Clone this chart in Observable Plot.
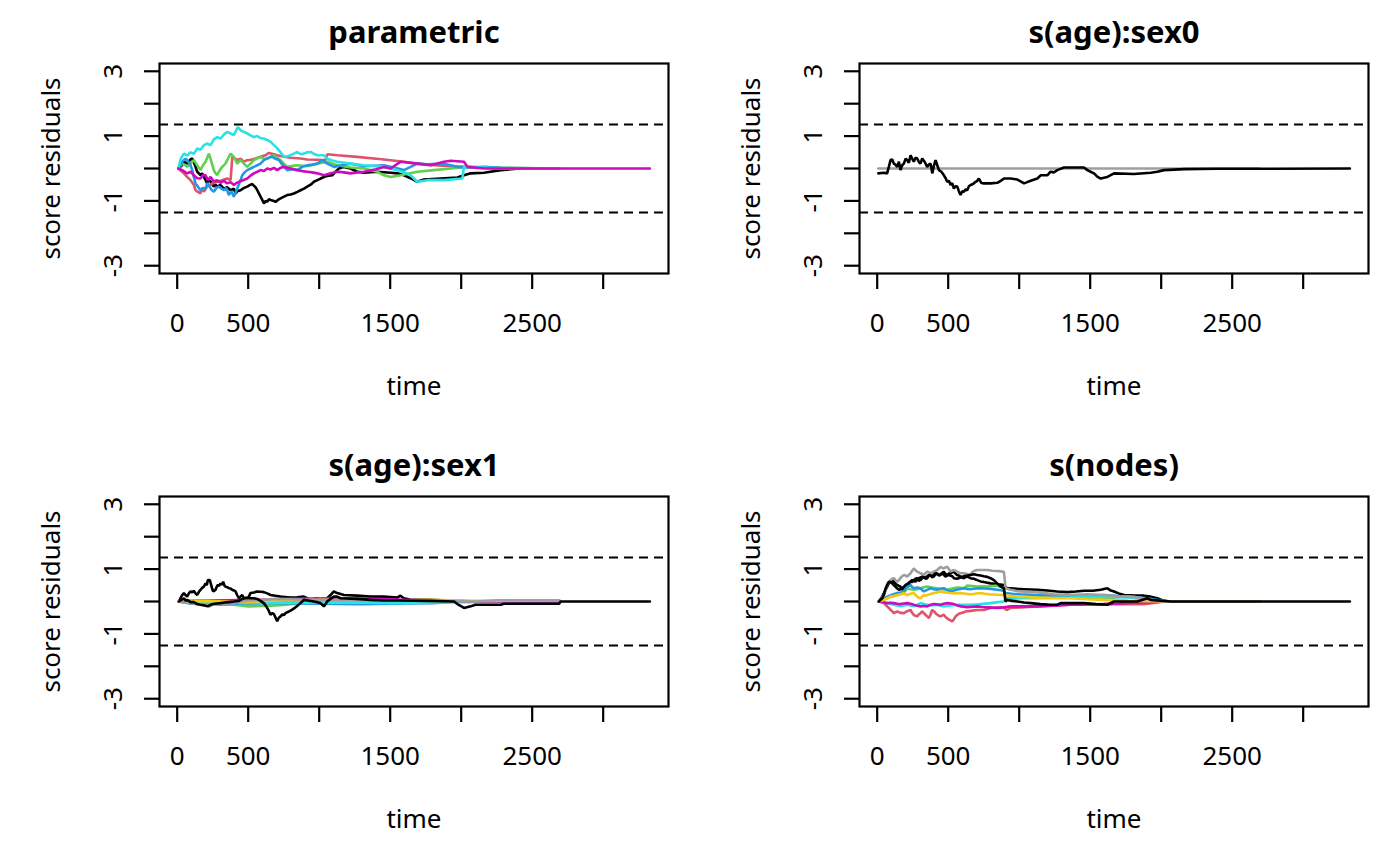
<!DOCTYPE html>
<html><head><meta charset="utf-8">
<script src="https://cdn.jsdelivr.net/npm/d3@7"></script>
<script src="https://cdn.jsdelivr.net/npm/@observablehq/plot@0.6"></script>
<style>
body{margin:0;background:#fff;}
#grid{display:grid;grid-template-columns:700px 700px;grid-template-rows:433px 433px;width:1400px;height:866px;}
#grid svg{display:block;}
</style></head><body><div id="grid"></div>
<script>
const panelTitles = ["parametric","s(age):sex0","s(age):sex1","s(nodes)"];
const xLabel = "time";
const yLabel = "score residuals";
const xTicks = [0,500,1000,1500,2000,2500,3000];
const xTickLabels = ["0","500","","1500","","2500",""];
const yTicks = [-3,-2,-1,0,1,2,3];
const yTickLabels = ["-3","","-1","","1","","3"];
const bandLimit = 1.358;
const seriesColors = ["#000000","#DF536B","#61D04F","#2297E6","#28E2E5","#CD0BBC","#F5C710","#9E9E9E","#000000"];

// ---- parametric ----
const par_black = [[8,0],[35,0.1],[47,0.21],[70,0.15],[94,0.28],[106,0.31],[117,0.2],[129,0.05],[141,-0.1],[164,-0.2],[176,-0.15],[188,-0.26],[200,-0.36],[211,-0.46],[223,-0.36],[235,-0.4],[258,-0.56],[270,-0.5],[282,-0.56],[305,-0.51],[329,-0.62],[352,-0.58],[376,-0.67],[399,-0.62],[411,-0.77],[423,-0.7],[446,-0.67],[470,-0.6],[493,-0.56],[517,-0.5],[529,-0.48],[552,-0.58],[564,-0.67],[587,-0.87],[599,-0.97],[611,-1.08],[622,-1.0],[634,-1.03],[646,-0.95],[658,-0.97],[681,-1.0],[693,-1.03],[716,-0.95],[728,-0.92],[752,-0.87],[775,-0.82],[799,-0.8],[822,-0.77],[846,-0.72],[869,-0.67],[893,-0.62],[916,-0.56],[940,-0.5],[963,-0.41],[987,-0.36],[1010,-0.31],[1045,-0.24],[1092,-0.21],[1115,-0.1],[1139,0],[1174,0.05],[1221,0],[1268,-0.1],[1315,-0.13],[1409,-0.1],[1503,-0.13],[1550,-0.15],[1597,-0.21],[1644,-0.3],[1691,-0.41],[1738,-0.34],[1856,-0.31],[1973,-0.28],[2020,-0.21],[2067,-0.15],[2161,-0.13],[2279,-0.05],[2396,-0.01],[2690,0]];
const par_red = [[8,0],[47,-0.15],[70,-0.26],[94,-0.36],[117,-0.5],[129,-0.67],[146,-0.72],[164,-0.77],[176,-0.6],[188,-0.72],[211,-0.56],[235,-0.5],[247,-0.46],[282,-0.41],[317,-0.36],[352,-0.31],[376,-0.36],[388,0.36],[411,0.3],[423,0.26],[446,0.3],[470,0.21],[493,0.26],[517,0.26],[552,0.31],[587,0.36],[622,0.41],[646,0.48],[681,0.44],[705,0.41],[752,0.36],[799,0.33],[869,0.31],[916,0.28],[1045,0.26],[1057,0.44],[1128,0.41],[1268,0.36],[1456,0.28],[1597,0.21],[1691,0.15],[1809,0.1],[1926,0.07],[2044,0.05],[2161,0.03],[2279,0.01],[2690,0]];
const par_green = [[8,0],[35,0.15],[58,0.1],[70,0.05],[94,0.15],[117,0.26],[141,0.1],[164,-0.05],[182,0.1],[200,0.21],[223,0.46],[235,0.3],[258,-0.05],[270,-0.15],[282,-0.2],[300,-0.05],[317,0.05],[340,0.15],[352,0.26],[376,0.46],[399,0.36],[423,0.15],[446,0.26],[470,0.15],[493,0.05],[517,0.15],[540,0.26],[564,0.31],[587,0.36],[611,0.3],[634,0.31],[658,0.36],[681,0.41],[705,0.33],[728,0.26],[752,0.15],[775,0.05],[810,0.08],[846,0.1],[916,0.07],[987,0.15],[1057,0.21],[1128,0.1],[1221,0.03],[1315,0],[1409,-0.1],[1456,-0.21],[1503,-0.26],[1574,-0.21],[1691,-0.1],[1809,-0.05],[1926,0],[2044,0.05],[2161,0.03],[2690,0]];
const par_blue = [[8,0],[35,0.21],[58,0.3],[70,0.26],[94,0.1],[106,-0.05],[117,-0.26],[129,-0.46],[146,-0.56],[164,-0.67],[182,-0.6],[200,-0.62],[212,-0.45],[223,-0.51],[240,-0.65],[258,-0.72],[276,-0.6],[294,-0.56],[311,-0.62],[329,-0.67],[346,-0.6],[364,-0.82],[381,-0.7],[399,-0.87],[415,-0.7],[428,-0.56],[443,-0.4],[458,-0.21],[475,-0.12],[493,-0.05],[517,0],[540,0.05],[564,0.1],[587,0.15],[611,0.26],[634,0.31],[658,0.36],[669,0.36],[693,0.3],[716,0.26],[752,0.05],[775,-0.05],[810,-0.02],[846,-0.05],[880,0.05],[916,0.1],[950,0.12],[987,0.15],[1022,0.26],[1057,0.15],[1104,0.05],[1160,0.1],[1221,0.15],[1315,0.07],[1456,0.1],[1503,0.05],[1597,-0.05],[1644,0.05],[1691,0.15],[1762,0.13],[1879,0.15],[1973,0.05],[2044,0.03],[2161,0.05],[2279,0.02],[2690,0]];
const par_cyan = [[8,0],[25,0.3],[47,0.46],[70,0.4],[94,0.5],[117,0.45],[141,0.62],[164,0.58],[188,0.72],[211,0.77],[235,0.72],[258,0.9],[282,0.97],[305,0.92],[329,1.05],[352,1.13],[376,1.08],[399,1.03],[412,1.15],[428,1.28],[446,1.18],[470,1.13],[493,1.08],[517,1.02],[540,0.97],[564,1.0],[587,0.94],[611,0.92],[634,0.88],[658,0.82],[681,0.72],[705,0.62],[728,0.5],[752,0.36],[775,0.38],[799,0.41],[822,0.46],[846,0.51],[869,0.44],[893,0.46],[916,0.5],[940,0.51],[963,0.45],[987,0.41],[1034,0.41],[1057,0.3],[1081,0.26],[1128,0.21],[1221,0.15],[1315,0.1],[1456,0.05],[1550,-0.05],[1600,-0.12],[1644,-0.21],[1691,-0.41],[1762,-0.36],[1879,-0.36],[2008,-0.31],[2020,0.05],[2161,0.03],[2279,0],[2690,0]];
const par_magenta = [[8,0],[35,-0.05],[58,-0.12],[70,-0.15],[94,-0.1],[117,-0.21],[141,-0.3],[164,-0.31],[182,-0.2],[200,-0.21],[217,-0.36],[235,-0.26],[258,-0.4],[282,-0.36],[305,-0.44],[329,-0.38],[352,-0.46],[376,-0.42],[399,-0.51],[417,-0.45],[435,-0.41],[464,-0.36],[493,-0.31],[517,-0.22],[540,-0.15],[564,-0.1],[587,-0.05],[611,-0.08],[634,0],[658,-0.03],[681,0.02],[705,-0.05],[728,0.02],[752,0.05],[799,0],[846,-0.05],[880,-0.08],[916,-0.1],[950,-0.12],[987,-0.15],[1034,-0.21],[1081,-0.15],[1128,-0.1],[1174,-0.12],[1221,-0.15],[1268,-0.12],[1315,-0.1],[1400,-0.02],[1456,0.05],[1503,0],[1574,0.21],[1691,0.15],[1785,0.1],[1879,0.21],[1926,0.24],[2020,0.21],[2044,0.05],[2161,0],[3329,0]];

// ---- s(age):sex0 ----
const sex0_gray = [[8,0],[2690,0]];
const sex0_black = [[8,-0.15],[47,-0.13],[70,-0.15],[82,0.05],[94,0.26],[106,0.28],[117,0.15],[129,0.12],[141,0.05],[153,0.21],[164,-0.05],[176,0.1],[188,0.15],[200,0.3],[211,0.26],[223,0.18],[235,0.41],[247,0.3],[258,0.21],[270,0.33],[282,0.31],[294,0.2],[305,0.15],[317,0.31],[335,0.2],[352,0.05],[364,0.12],[376,0.15],[388,-0.15],[400,0.1],[411,0.26],[423,0.1],[435,-0.05],[452,-0.1],[470,-0.21],[482,-0.3],[493,-0.41],[505,-0.38],[517,-0.51],[528,-0.45],[540,-0.62],[552,-0.55],[564,-0.56],[575,-0.7],[587,-0.82],[599,-0.7],[611,-0.72],[622,-0.65],[634,-0.67],[646,-0.55],[658,-0.51],[675,-0.48],[693,-0.41],[705,-0.38],[716,-0.31],[734,-0.45],[752,-0.46],[799,-0.46],[846,-0.44],[870,-0.38],[893,-0.31],[940,-0.31],[987,-0.34],[1010,-0.4],[1034,-0.46],[1057,-0.42],[1081,-0.38],[1128,-0.31],[1151,-0.21],[1198,-0.21],[1221,-0.1],[1244,-0.12],[1268,-0.05],[1315,0.03],[1362,0.03],[1456,0.03],[1480,-0.05],[1503,-0.1],[1527,-0.15],[1550,-0.25],[1574,-0.31],[1621,-0.26],[1668,-0.15],[1809,-0.17],[1926,-0.13],[1973,-0.1],[2020,-0.05],[2161,-0.02],[2396,-0.01],[3329,0]];

// ---- s(age):sex1 ----
const sex1_black1 = [[12,0],[23,0.1],[35,0.2],[47,0.26],[58,0.2],[70,0.15],[82,0.25],[94,0.31],[106,0.28],[117,0.33],[129,0.25],[141,0.2],[153,0.3],[164,0.36],[176,0.42],[188,0.46],[200,0.56],[208,0.5],[216,0.66],[230,0.66],[239,0.51],[246,0.4],[253,0.31],[262,0.33],[270,0.36],[278,0.45],[286,0.51],[295,0.48],[305,0.56],[314,0.52],[324,0.61],[332,0.5],[340,0.46],[352,0.44],[364,0.41],[376,0.4],[387,0.36],[399,0.34],[411,0.31],[422,0.2],[434,0.1],[446,0.15],[458,0.2],[470,0.1],[493,0],[505,0.15],[516,0.26],[540,0.28],[563,0.31],[587,0.3],[610,0.29],[634,0.25],[657,0.2],[690,0.18],[728,0.15],[760,0.14],[798,0.12],[845,0.13],[892,0.15],[915,0.1],[939,0.05],[962,0.08],[986,0.1],[1009,0.05],[1033,0],[1056,0.1],[1080,0.2],[1103,0.31],[1127,0.26],[1174,0.2],[1267,0.18],[1361,0.15],[1455,0.15],[1549,0.12],[1572,0.18],[1596,0.1],[1643,0.05],[1784,0.05],[1900,0.03],[2100,0],[2690,0]];
const sex1_red = [[12,0],[60,-0.02],[100,-0.04],[180,-0.02],[250,-0.05],[350,-0.04],[500,-0.07],[600,-0.05],[700,-0.03],[850,-0.02],[1000,0],[1200,-0.01],[1500,-0.02],[1800,-0.01],[2000,0],[2690,0]];
const sex1_green = [[12,0],[60,-0.03],[100,-0.05],[200,-0.06],[300,-0.08],[400,-0.1],[500,-0.15],[600,-0.14],[700,-0.12],[800,-0.08],[900,-0.05],[1200,-0.05],[1500,-0.03],[2000,0],[2690,0]];
const sex1_blue = [[12,0],[80,-0.05],[150,-0.08],[220,-0.06],[300,-0.1],[400,-0.07],[500,-0.05],[800,-0.05],[1000,-0.07],[1300,-0.08],[1600,-0.06],[1800,-0.05],[2000,0],[2690,0]];
const sex1_cyan = [[12,0],[100,-0.02],[200,-0.03],[350,-0.04],[500,-0.05],[800,-0.04],[1000,-0.03],[1300,-0.04],[1500,-0.05],[1800,-0.03],[2000,-0.02],[2690,0]];
const sex1_magenta = [[12,0],[100,0.02],[200,0.03],[350,0.04],[500,0.05],[650,0.06],[800,0.08],[950,0.09],[1100,0.1],[1250,0.09],[1400,0.08],[1600,0.05],[1800,0.03],[2200,0],[2690,0]];
const sex1_yellow = [[12,0],[100,0.01],[200,0.02],[300,0.01],[400,-0.02],[550,0],[700,0.03],[850,0.04],[1000,0.05],[1250,0.04],[1500,0.03],[1800,0.05],[2000,0.03],[2200,0.02],[2690,0.03]];
const sex1_gray = [[12,0],[50,-0.03],[100,-0.05],[150,-0.08],[200,-0.1],[230,-0.15],[260,-0.08],[300,-0.08],[350,-0.06],[400,-0.05],[450,0],[500,0.03],[600,0.05],[700,0.08],[800,0.07],[900,0.05],[1100,0.05],[1400,0.03],[1800,0.02],[2100,0],[2250,0.04],[2690,0.04],[2700,0]];
const sex1_black2 = [[12,0],[30,0.05],[47,0.1],[60,0.02],[70,0.05],[94,-0.02],[117,-0.02],[141,-0.08],[164,-0.1],[190,-0.12],[216,-0.15],[235,-0.1],[253,-0.08],[280,-0.06],[305,-0.05],[335,-0.03],[364,-0.02],[400,0],[434,0.02],[450,0.06],[469,0.1],[493,0.12],[516,0.1],[540,0.1],[563,0.08],[587,0.02],[610,-0.05],[622,-0.12],[634,-0.2],[646,-0.3],[657,-0.41],[669,-0.36],[681,-0.39],[693,-0.5],[704,-0.61],[716,-0.5],[728,-0.46],[740,-0.4],[751,-0.42],[763,-0.36],[775,-0.33],[786,-0.31],[810,-0.25],[833,-0.18],[850,-0.12],[868,-0.05],[880,0],[892,0.05],[920,0.03],[962,0],[986,-0.02],[1009,-0.05],[1022,-0.1],[1033,-0.15],[1045,-0.08],[1056,0],[1080,0.08],[1103,0.15],[1127,0.15],[1150,0.1],[1267,0.08],[1361,0.05],[1455,0.03],[1549,0.03],[1784,0.02],[1950,0],[1980,-0.1],[2020,-0.2],[2067,-0.15],[2100,-0.1],[2279,-0.1],[2300,-0.07],[2690,-0.07],[2700,0],[3329,0]];

// ---- s(nodes) ----
const nodes_black1 = [[12,0],[35,0.15],[59,0.36],[82,0.56],[94,0.61],[106,0.66],[117,0.61],[129,0.55],[141,0.51],[153,0.48],[164,0.46],[176,0.36],[188,0.41],[200,0.48],[211,0.51],[223,0.58],[235,0.61],[246,0.6],[258,0.66],[270,0.7],[282,0.72],[293,0.64],[305,0.66],[317,0.72],[329,0.77],[340,0.7],[352,0.72],[364,0.8],[376,0.82],[387,0.75],[399,0.77],[411,0.84],[422,0.87],[434,0.8],[446,0.82],[458,0.88],[469,0.92],[481,0.85],[493,0.82],[505,0.86],[516,0.87],[528,0.9],[540,0.92],[552,0.86],[563,0.82],[575,0.8],[587,0.77],[598,0.74],[610,0.72],[622,0.75],[634,0.77],[657,0.72],[681,0.7],[704,0.66],[728,0.62],[751,0.6],[775,0.58],[798,0.56],[822,0.55],[845,0.53],[870,0.52],[892,0.51],[904,0.45],[916,0.41],[939,0.41],[987,0.39],[1034,0.38],[1081,0.37],[1128,0.36],[1198,0.34],[1268,0.31],[1339,0.29],[1400,0.31],[1456,0.33],[1520,0.33],[1574,0.36],[1621,0.41],[1640,0.35],[1668,0.31],[1700,0.25],[1738,0.2],[1800,0.19],[1879,0.18],[1926,0.15],[1973,0.1],[2020,0.02],[2067,0],[2690,0]];
const nodes_red = [[12,0],[35,-0.03],[47,-0.05],[59,-0.1],[70,-0.15],[82,-0.2],[94,-0.26],[106,-0.3],[117,-0.36],[129,-0.33],[141,-0.31],[164,-0.35],[188,-0.36],[211,-0.3],[235,-0.26],[246,-0.35],[258,-0.41],[270,-0.44],[282,-0.46],[293,-0.4],[305,-0.36],[317,-0.31],[329,-0.36],[340,-0.41],[352,-0.46],[364,-0.51],[376,-0.4],[387,-0.26],[399,-0.3],[411,-0.36],[422,-0.4],[434,-0.44],[446,-0.46],[458,-0.43],[469,-0.41],[481,-0.48],[493,-0.52],[505,-0.56],[516,-0.58],[528,-0.61],[540,-0.55],[552,-0.46],[563,-0.42],[575,-0.38],[587,-0.36],[610,-0.33],[622,-0.31],[657,-0.29],[704,-0.26],[751,-0.26],[798,-0.2],[845,-0.18],[892,-0.18],[904,-0.24],[915,-0.26],[939,-0.2],[1009,-0.18],[1127,-0.15],[1244,-0.12],[1361,-0.1],[1596,-0.08],[1700,-0.08],[1879,-0.08],[2020,0],[2690,0]];
const nodes_green = [[12,0],[40,0.05],[70,0.1],[100,0.15],[141,0.2],[165,0.22],[188,0.26],[211,0.41],[235,0.38],[258,0.36],[282,0.38],[305,0.41],[329,0.44],[352,0.46],[387,0.43],[422,0.41],[458,0.38],[493,0.36],[528,0.4],[563,0.43],[587,0.42],[610,0.41],[634,0.49],[670,0.48],[704,0.46],[740,0.47],[775,0.46],[810,0.48],[845,0.49],[870,0.45],[892,0.41],[904,0.05],[950,0.08],[1009,0.12],[1127,0.15],[1244,0.14],[1361,0.12],[1596,0.1],[1700,0.05],[1784,0],[1900,0.03],[2100,0],[2690,0]];
const nodes_blue = [[12,0],[40,0.08],[70,0.15],[100,0.2],[141,0.26],[165,0.28],[188,0.31],[200,0.4],[211,0.46],[223,0.48],[235,0.51],[246,0.45],[258,0.41],[282,0.43],[305,0.41],[317,0.35],[329,0.31],[352,0.36],[376,0.41],[399,0.38],[422,0.36],[446,0.39],[469,0.41],[493,0.35],[516,0.31],[540,0.34],[563,0.36],[587,0.39],[610,0.41],[634,0.39],[657,0.38],[690,0.4],[728,0.41],[760,0.4],[798,0.39],[845,0.36],[892,0.33],[904,0.26],[950,0.24],[1009,0.22],[1127,0.2],[1244,0.18],[1361,0.15],[1480,0.17],[1596,0.2],[1700,0.17],[1784,0.15],[1900,0.1],[2050,0],[2690,0]];
const nodes_cyan = [[12,0],[40,-0.03],[70,-0.05],[94,-0.08],[117,-0.1],[141,-0.12],[164,-0.15],[188,-0.12],[211,-0.1],[235,-0.12],[258,-0.15],[282,-0.1],[305,-0.05],[329,-0.08],[352,-0.1],[387,-0.12],[422,-0.1],[446,-0.13],[469,-0.15],[516,-0.12],[563,-0.1],[610,-0.1],[657,-0.1],[704,-0.09],[728,-0.08],[798,-0.05],[850,-0.02],[892,0],[904,0.1],[1009,0.1],[1127,0.1],[1244,0.11],[1361,0.12],[1480,0.14],[1596,0.15],[1700,0.13],[1784,0.12],[1900,0.05],[2050,0],[2690,0]];
const nodes_magenta = [[12,0],[40,-0.02],[70,-0.05],[94,-0.04],[117,-0.05],[141,-0.07],[164,-0.08],[188,-0.06],[211,-0.05],[235,-0.07],[258,-0.1],[282,-0.13],[305,-0.15],[329,-0.14],[352,-0.15],[376,-0.1],[399,-0.08],[422,-0.09],[446,-0.1],[469,-0.07],[493,-0.05],[516,-0.06],[540,-0.08],[563,-0.12],[587,-0.15],[610,-0.16],[634,-0.18],[670,-0.16],[704,-0.15],[740,-0.17],[775,-0.18],[810,-0.19],[845,-0.2],[892,-0.18],[939,-0.15],[1009,-0.15],[1127,-0.15],[1244,-0.13],[1361,-0.1],[1480,-0.09],[1596,-0.08],[1700,-0.06],[1800,-0.04],[1900,-0.03],[2050,0],[2690,0]];
const nodes_yellow = [[12,0],[30,0.02],[47,0.05],[70,0.1],[94,0.15],[117,0.17],[141,0.2],[164,0.22],[188,0.26],[200,0.22],[211,0.2],[235,0.24],[258,0.26],[270,0.2],[282,0.15],[293,0.12],[305,0.1],[317,0.15],[329,0.2],[340,0.18],[352,0.2],[376,0.23],[399,0.26],[422,0.28],[446,0.31],[469,0.29],[493,0.27],[516,0.26],[552,0.25],[587,0.26],[622,0.24],[657,0.22],[690,0.24],[728,0.26],[760,0.24],[798,0.22],[845,0.21],[892,0.2],[950,0.17],[1009,0.15],[1127,0.12],[1244,0.11],[1361,0.1],[1480,0.07],[1596,0.05],[1784,0.02],[2000,0],[2690,0]];
const nodes_gray = [[12,0],[30,0.1],[47,0.2],[59,0.36],[70,0.51],[82,0.6],[94,0.66],[106,0.7],[117,0.72],[129,0.66],[141,0.61],[153,0.66],[164,0.72],[176,0.78],[188,0.82],[200,0.8],[211,0.77],[223,0.82],[235,0.87],[246,0.95],[258,1.02],[270,0.96],[282,0.92],[293,0.9],[305,0.87],[317,0.85],[329,0.82],[340,0.87],[352,0.92],[364,0.9],[376,0.87],[399,0.92],[422,0.97],[434,1.02],[446,1.07],[458,1.04],[469,1.02],[481,1.05],[493,1.07],[505,1.0],[516,0.92],[528,0.95],[540,0.97],[563,0.92],[587,0.87],[610,0.87],[634,0.85],[657,0.82],[669,0.9],[681,0.94],[704,0.97],[740,0.97],[775,0.97],[810,0.95],[845,0.94],[870,0.93],[892,0.92],[904,0.41],[939,0.36],[975,0.33],[1009,0.31],[1127,0.29],[1244,0.22],[1361,0.2],[1479,0.22],[1596,0.2],[1713,0.15],[1784,0.15],[1900,0.08],[2000,0],[2690,0]];
const nodes_black2 = [[12,0],[35,0.1],[47,0.2],[59,0.4],[70,0.51],[82,0.61],[94,0.6],[106,0.56],[117,0.5],[129,0.46],[141,0.4],[153,0.36],[164,0.38],[176,0.41],[188,0.46],[200,0.51],[211,0.54],[223,0.56],[235,0.62],[246,0.66],[258,0.64],[270,0.61],[282,0.68],[293,0.72],[305,0.74],[317,0.77],[329,0.74],[340,0.72],[352,0.78],[364,0.82],[376,0.8],[387,0.77],[399,0.83],[411,0.87],[422,0.85],[434,0.82],[446,0.84],[458,0.87],[469,0.82],[481,0.77],[493,0.8],[505,0.82],[528,0.78],[540,0.72],[563,0.7],[587,0.74],[610,0.78],[634,0.8],[657,0.82],[681,0.84],[704,0.82],[728,0.8],[751,0.78],[775,0.76],[798,0.72],[822,0.66],[845,0.56],[870,0.46],[892,0.41],[904,0],[916,0.05],[950,0.02],[987,0],[1034,-0.03],[1081,-0.05],[1150,-0.08],[1221,-0.1],[1268,-0.1],[1292,-0.05],[1456,-0.05],[1540,-0.08],[1621,-0.1],[1668,0],[1832,0],[1903,0.1],[1926,0.05],[2067,0],[3329,0]];

// series lists: [data, colour index]
const panelSeries = [
  [[par_black,0],[par_red,1],[par_green,2],[par_blue,3],[par_cyan,4],[par_magenta,5]],
  [[sex0_gray,7],[sex0_black,8]],
  [[sex1_black1,0],[sex1_red,1],[sex1_green,2],[sex1_blue,3],[sex1_cyan,4],[sex1_magenta,5],[sex1_yellow,6],[sex1_gray,7],[sex1_black2,8]],
  [[nodes_black1,0],[nodes_red,1],[nodes_green,2],[nodes_blue,3],[nodes_cyan,4],[nodes_magenta,5],[nodes_yellow,6],[nodes_gray,7],[nodes_black2,8]]
];

const FONT = "'Noto Sans', 'Open Sans', sans-serif";
const FS = 26;

function makePanel(title, series) {
  return Plot.plot({
    width: 700, height: 433,
    marginLeft: 159, marginRight: 32, marginTop: 63, marginBottom: 160,
    x: {domain: [-124.6, 3460]},
    y: {domain: [-3.24, 3.24]},
    style: {fontFamily: FONT, fontSize: FS + "px", background: "#fff", color: "#000", overflow: "visible"},
    marks: [
      Plot.ruleY([bandLimit, -bandLimit], {stroke: "#000", strokeWidth: 2.2, strokeDasharray: "9,6"}),
      ...series.map(([data, ci]) => Plot.line(data, {x: d => d[0], y: d => d[1], stroke: seriesColors[ci], strokeWidth: 2.6, strokeLinejoin: "miter"})),
      Plot.frame({stroke: "#000", strokeWidth: 2.2}),
      Plot.axisX({ticks: xTicks, tickFormat: d => xTickLabels[xTicks.indexOf(d)], tickSize: 16, tickPadding: 24, fontSize: FS, label: null, strokeWidth: 2.2}),
      Plot.axisY({ticks: yTicks, tickFormat: () => "", tickSize: 15, label: null, strokeWidth: 2.2}),
      Plot.text(yTicks, {y: d => d, text: d => yTickLabels[yTicks.indexOf(d)], frameAnchor: "left", dx: -46, rotate: -90, fontSize: FS, textAnchor: "middle", lineAnchor: "middle"}),
      Plot.text([yLabel], {text: d => d, frameAnchor: "left", dx: -108, rotate: -90, fontSize: FS, textAnchor: "middle", lineAnchor: "middle"}),
      Plot.text([xLabel], {text: d => d, frameAnchor: "bottom", dy: 113, fontSize: FS, lineAnchor: "middle"}),
      Plot.text([title], {text: d => d, frameAnchor: "top", dy: -30, fontSize: 31, fontWeight: "bold", lineAnchor: "middle"})
    ]
  });
}

const grid = document.getElementById("grid");
panelTitles.forEach((t, i) => grid.appendChild(makePanel(t, panelSeries[i])));
</script>
</body></html>
